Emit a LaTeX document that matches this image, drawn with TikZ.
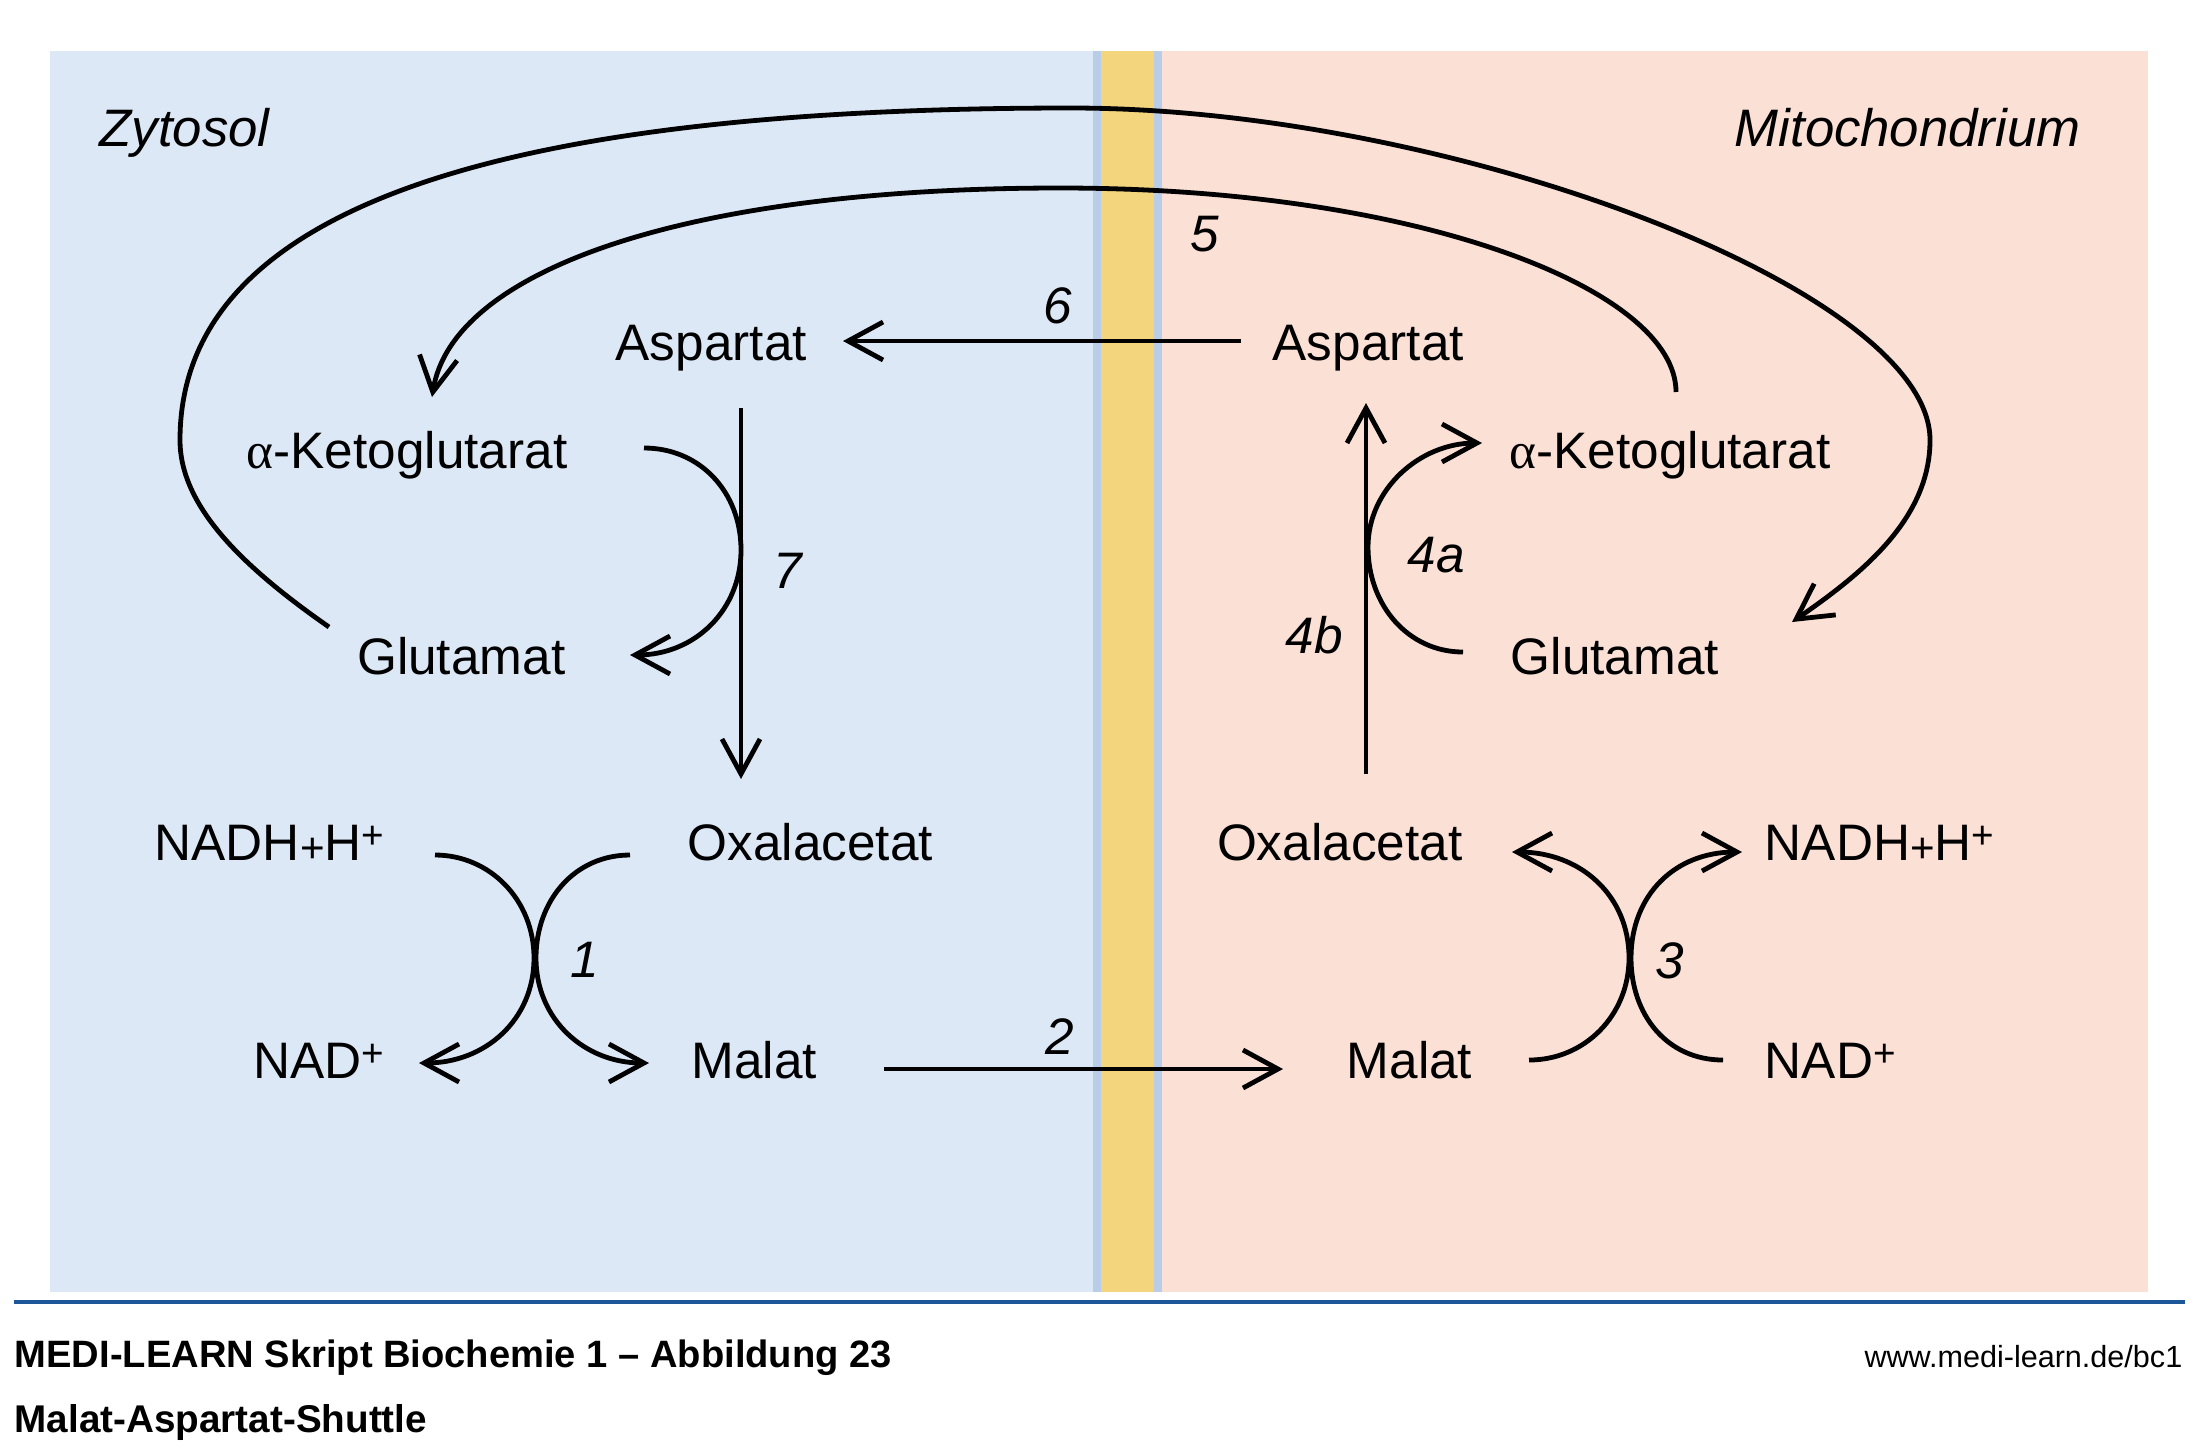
\documentclass[tikz,border=0pt]{standalone}
\usepackage{fontspec}
\setmainfont{Liberation Sans}
\newfontfamily\greekf{Liberation Serif}
\usetikzlibrary{arrows.meta}
\definecolor{cyto}{RGB}{221,232,246}
\definecolor{mito}{RGB}{251,224,214}
\definecolor{memb}{RGB}{243,213,126}
\definecolor{membedge}{RGB}{185,204,232}
\definecolor{rulecol}{RGB}{30,87,151}
\newcommand\supplus{\raisebox{3.2pt}{\fontsize{11}{11}\selectfont +}}
\newcommand\midplus{{\fontsize{12}{12}\selectfont\raisebox{-0.6pt}{+}}}
\newcommand\galpha{{\greekf α}}
\begin{document}
\begin{tikzpicture}[x=0.1mm,y=-0.1mm,
  lbl/.style={inner sep=0pt, font=\fontsize{14.6}{17}\selectfont},
  num/.style={inner sep=0pt, anchor=base west, font=\fontsize{14.6}{17}\selectfont\itshape},
  region/.style={inner sep=0pt, anchor=base west, font=\fontsize{15}{18}\selectfont\itshape},
  conn/.style={line width=0.48mm, -{Straight Barb[length=3.5mm,width=3.8mm]}},
]
\useasboundingbox (0,0) rectangle (2210,1450);
\fill[white] (0,0) rectangle (2210,1450);
% compartments
\fill[cyto] (50,51) rectangle (1096,1292);
\fill[mito] (1159,51) rectangle (2148,1292);
\fill[membedge] (1093,51) rectangle (1162,1292);
\fill[memb] (1101,51) rectangle (1154,1292);

% region titles
\node[region] (zyt) at (99,146) {Zytosol};
\node[region] (mit) at (1734,146) {Mitochondrium};

% metabolites
\node[lbl, anchor=base west] (aspL) at (615,360) {Aspartat};
\node[lbl, anchor=base west] (aspR) at (1272,360) {Aspartat};
\node[lbl, anchor=base east] (akgL) at (568,468) {\galpha-Ketoglutarat};
\node[lbl, anchor=base west] (akgR) at (1509,468) {\galpha-Ketoglutarat};
\node[lbl, anchor=base east] (gluL) at (566,674) {Glutamat};
\node[lbl, anchor=base west] (gluR) at (1510,674) {Glutamat};
\node[lbl, anchor=base east] (nadhL) at (385,860) {NADH\midplus H\supplus};
\node[lbl, anchor=base west] (oxaL) at (687,860) {Oxalacetat};
\node[lbl, anchor=base east] (oxaR) at (1463,860) {Oxalacetat};
\node[lbl, anchor=base west] (nadhR) at (1764,860) {NADH\midplus H\supplus};
\node[lbl, anchor=base east] (nadL) at (385,1078) {NAD\supplus};
\node[lbl, anchor=base west] (malL) at (691,1078) {Malat};
\node[lbl, anchor=base west] (malR) at (1346,1078) {Malat};
\node[lbl, anchor=base west] (nadR) at (1764,1078) {NAD\supplus};

% step numbers
\node[num] (n5) at (1190,251) {5};
\node[num] (n6) at (1043,323) {6};
\node[num] (n7) at (773,588) {7};
\node[num] (n4a) at (1407,572) {4a};
\node[num] (n4b) at (1285,653) {4b};
\node[num] (n1) at (570,977) {1};
\node[num] (n2) at (1045,1054) {2};
\node[num] (n3) at (1655,978) {3};

% endpoints of connectors, attached to their nodes
\coordinate (a6s) at ([shift={(-31,-19)}]aspR.base west);
\coordinate (a6e) at ([shift={(228,-19)}]aspL.base west);
\coordinate (a7s) at ([shift={(126,48)}]aspL.base west);
\coordinate (a7e) at ([shift={(54,-81)}]oxaL.base west);
\coordinate (c7s) at ([shift={(76,-20)}]akgL.base east);
\coordinate (c7e) at ([shift={(64,-19)}]gluL.base east);
\coordinate (o5s) at ([shift={(-237,-47)}]gluL.base east);
\coordinate (o5e) at ([shift={(282,-52)}]gluR.base west);
\coordinate (i5s) at ([shift={(167,-76)}]akgR.base west);
\coordinate (i5e) at ([shift={(-136,-71)}]akgL.base east);
\coordinate (a4bs) at ([shift={(-97,-86)}]oxaR.base east);
\coordinate (a4be) at ([shift={(94,43)}]aspR.base west);
\coordinate (c4as) at ([shift={(-47,-22)}]gluR.base west);
\coordinate (c4ae) at ([shift={(-27,-25)}]akgR.base west);
\coordinate (x1as) at ([shift={(50,-5)}]nadhL.base east);
\coordinate (x1ae) at ([shift={(34,-15)}]nadL.base east);
\coordinate (x1bs) at ([shift={(-57,-5)}]oxaL.base west);
\coordinate (x1be) at ([shift={(-42,-15)}]malL.base west);
\coordinate (a2s) at ([shift={(193,-9)}]malL.base west);
\coordinate (a2e) at ([shift={(-63,-9)}]malR.base west);
\coordinate (x3as) at ([shift={(183,-18)}]malR.base west);
\coordinate (x3ae) at ([shift={(49,-8)}]oxaR.base east);
\coordinate (x3bs) at ([shift={(-41,-18)}]nadR.base west);
\coordinate (x3be) at ([shift={(-22,-8)}]nadhR.base west);

% 6: aspartate export
\draw[conn] (a6s) -- (a6e);
% 7: transamination (cytosol)
\draw[conn] (a7s) -- (a7e);
\draw[conn] (c7s) .. controls +(56,0) and +(0,-58) .. (741,550)
                 .. controls +(0,60) and +(65,0) .. (c7e);
% 5: antiporter glutamate / alpha-ketoglutarate
\draw[conn] (o5s) .. controls (240,565) and (180,505) .. (180,440)
                 .. controls (180,200) and (520,108) .. (1071,108)
                 .. controls (1450,108) and (1930,290) .. (1930,440)
                 .. controls (1930,520) and (1860,575) .. (o5e);
\draw[conn] (i5s) .. controls (1676,290) and (1420,188) .. (1060,188)
                 .. controls (680,188) and (452,272) .. (i5e);
% 4b and 4a (mitochondrion)
\draw[conn] (a4bs) -- (a4be);
\draw[conn] (c4as) .. controls +(-55,0) and +(0,58) .. (1368,547)
                  .. controls +(0,-58) and +(-62,0) .. (c4ae);
% 1: cytosolic malate dehydrogenase
\draw[conn] (x1as) .. controls (490,855) and (534,900) .. (534,958)
                  .. controls (534,1020) and (485,1063) .. (x1ae);
\draw[conn] (x1bs) .. controls (575,855) and (536,900) .. (536,958)
                  .. controls (536,1020) and (585,1063) .. (x1be);
% 2: malate import
\draw[conn] (a2s) -- (a2e);
% 3: mitochondrial malate dehydrogenase
\draw[conn] (x3as) .. controls (1585,1060) and (1629,1015) .. (1629,958)
                  .. controls (1629,895) and (1580,852) .. (x3ae);
\draw[conn] (x3bs) .. controls (1667,1060) and (1631,1015) .. (1631,958)
                  .. controls (1631,895) and (1675,852) .. (x3be);

% footer
\draw[rulecol, line width=0.4mm] (14,1302) -- (2185,1302);
\node[inner sep=0pt, anchor=base west, font=\fontsize{10.85}{13}\selectfont\bfseries] (cap1) at (14,1367) {MEDI-LEARN Skript Biochemie 1 – Abbildung 23};
\node[inner sep=0pt, anchor=base west, font=\fontsize{11}{13}\selectfont\bfseries] (cap2) at (14,1432) {Malat-Aspartat-Shuttle};
\node[inner sep=0pt, anchor=base east, font=\fontsize{8.7}{10}\selectfont] (url) at (2183,1367) {www.medi-learn.de/bc1};
\end{tikzpicture}
\end{document}
